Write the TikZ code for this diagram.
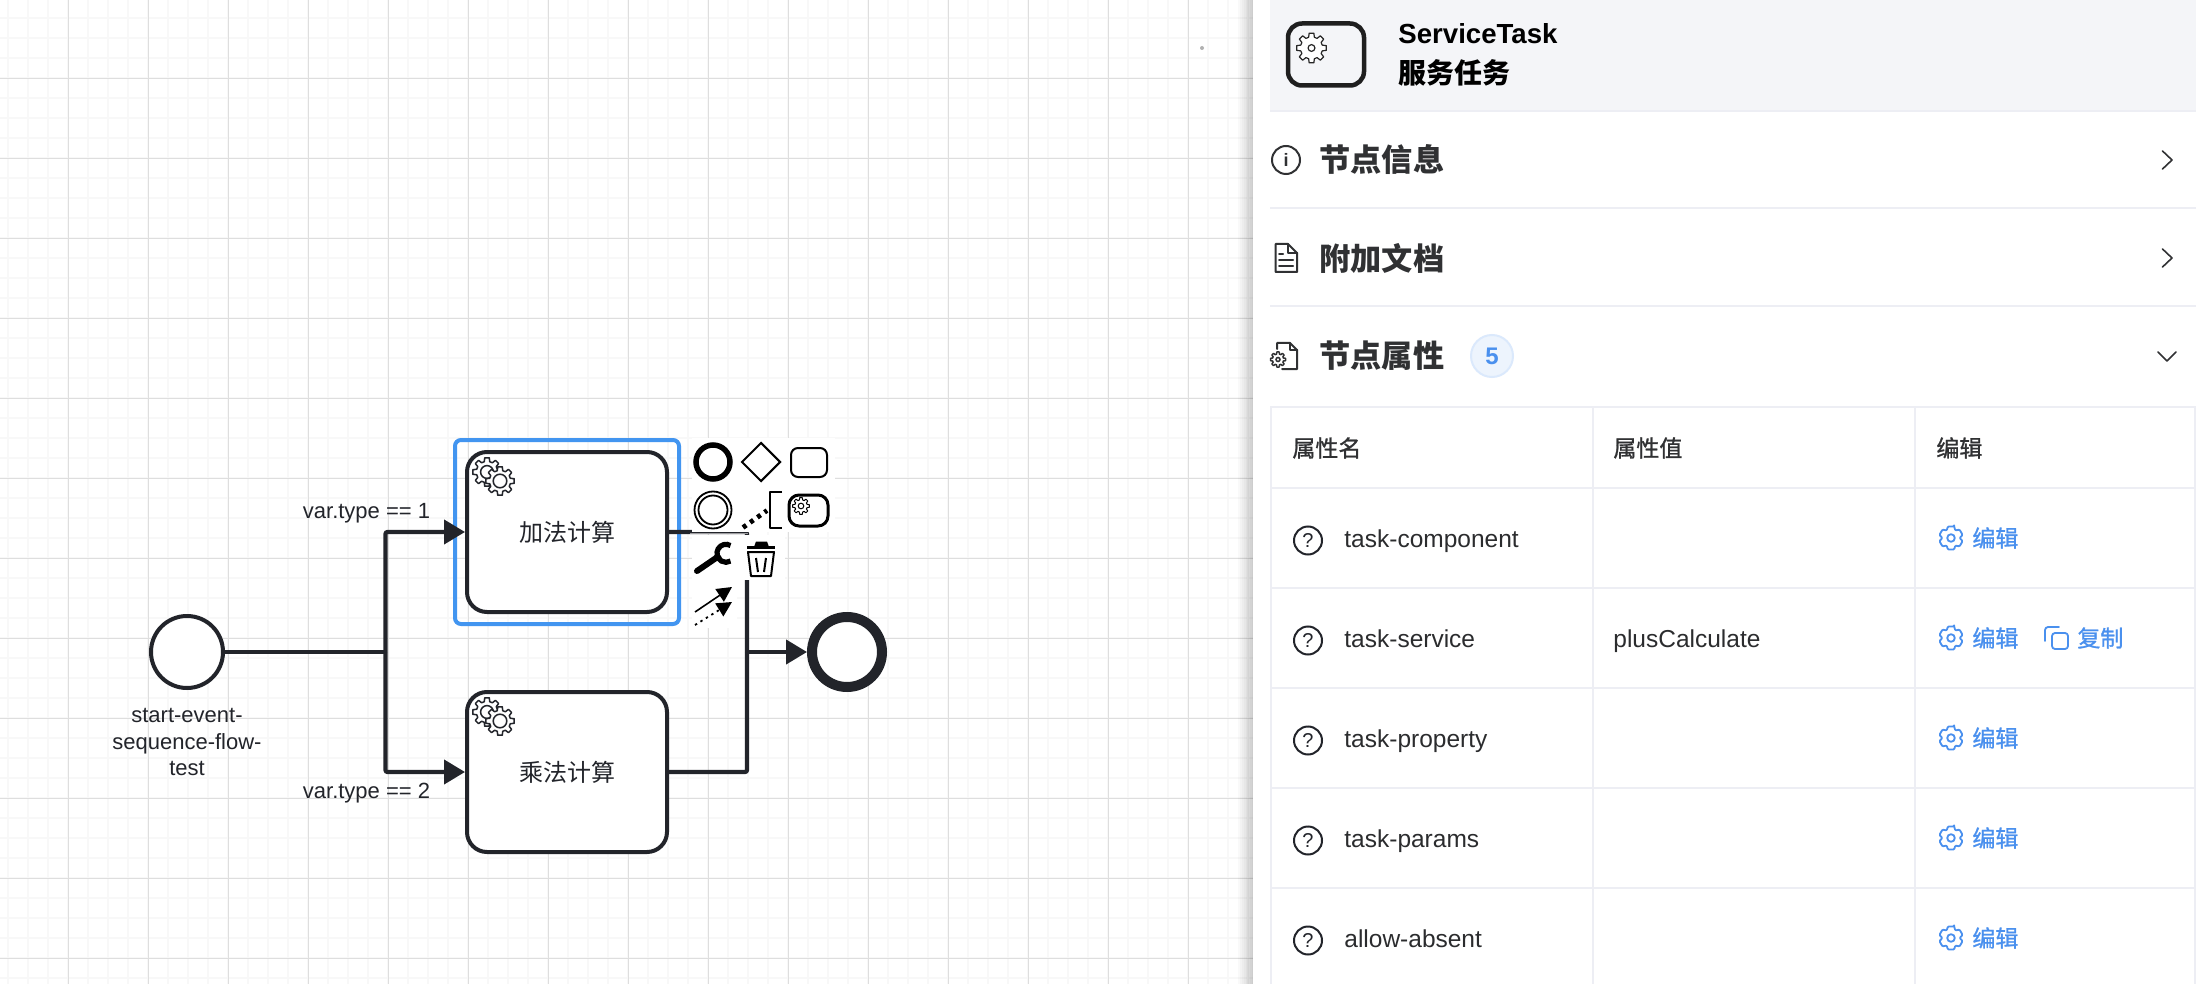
\documentclass[tikz,border=0pt]{standalone}
\usepackage{fontspec}
\setmainfont{Liberation Sans}
\newfontfamily\cjk{Noto Sans CJK SC}
\newfontfamily\cjkm[FakeBold=1.1]{Noto Sans CJK SC}
\usetikzlibrary{arrows.meta,calc,shapes.geometric}
\definecolor{ink}{HTML}{22242A}
\definecolor{major}{HTML}{DEDEDE}
\definecolor{minorg}{HTML}{F8F8F8}
\definecolor{selblue}{HTML}{4295F0}
\definecolor{linkblue}{HTML}{4A90EE}
\definecolor{rule}{HTML}{EDEEF4}
\definecolor{head}{HTML}{F4F5F8}
\definecolor{txt}{HTML}{303133}
\tikzset{
  bpmn/.style={draw=ink,line width=2pt,fill=white,inner sep=0pt},
  task/.style={bpmn,rectangle,rounded corners=10pt,minimum width=100pt,minimum height=80pt,font=\cjk\fontsize{12}{14}\selectfont,text=ink},
  flow/.style={draw=ink,line width=2.1pt,rounded corners=1pt},
  flowtip/.style={flow,-{Triangle[length=10.5pt,width=12pt]}},
  lbl/.style={inner sep=0pt,text=ink,font=\fontsize{11}{13}\selectfont},
  sect/.style={inner sep=0pt,anchor=west,text=txt,font=\cjk\bfseries\fontsize{15.6}{17}\selectfont},
  thtxt/.style={inner sep=0pt,anchor=west,text=txt,font=\cjkm\fontsize{11.5}{14}\selectfont},
  cell/.style={inner sep=0pt,anchor=base west,text=txt!90!black,font=\fontsize{12.25}{14}\selectfont},
  lnk/.style={inner sep=0pt,anchor=west,text=linkblue,font=\cjkm\fontsize{11.5}{14}\selectfont},
  qmark/.style={circle,draw=ink,line width=1pt,minimum size=14pt,inner sep=0pt,font=\fontsize{10}{10}\selectfont,text=ink},
  panelrule/.style={draw=rule,line width=1pt},
  tblrule/.style={draw=rule,line width=1pt},
  icon/.style={draw=txt,line width=1pt,line join=round,line cap=round},
  blueicon/.style={draw=linkblue,line width=.9pt,line join=round,line cap=round},
  pal/.style={draw=black,line width=1pt,line join=round},
}
% x, y, outer radius (pt), line width, colour, inner radius (pt)
\newcommand{\mygear}[6]{%
  \begin{scope}[shift={(#1,#2)}]
    \draw[draw=#5,fill=white,line width=#4,line join=round]
      (-15:{0.74*#3pt})
      \foreach \a in {0,45,...,315}{
        -- ({\a-15}:{0.74*#3pt}) -- ({\a-9}:{#3pt}) -- ({\a+9}:{#3pt}) -- ({\a+15}:{0.74*#3pt})
      } -- cycle;
    \draw[draw=#5,line width=#4] (0,0) circle[radius=#6pt];
  \end{scope}}
% x, y : six-lobed blue gear
\newcommand{\hexgear}[2]{%
  \begin{scope}[shift={(#1,#2)}]
    \draw[blueicon,rounded corners=.5pt]
      (75:6pt)
      \foreach \a in {90,150,...,390}{
        -- ({\a-15}:6pt) -- ({\a+15}:6pt) -- ({\a+30}:4.3pt)
      } -- cycle;
    \draw[blueicon] (0,0) circle[radius=1.9pt];
  \end{scope}}
\begin{document}
\begin{tikzpicture}[x=0.5pt,y=-0.5pt]
\useasboundingbox (0,0) rectangle (2196,984);
\fill[white] (0,0) rectangle (2196,984);
% grid
\foreach \k in {0,...,62}{\draw[minorg,line width=1pt] ({8+20*\k},0) -- ({8+20*\k},984);}
\foreach \k in {0,...,48}{\draw[minorg,line width=1pt] (0,{18+20*\k}) -- (1254,{18+20*\k});}
\foreach \k in {0,...,15}{\draw[major,line width=.5pt] ({68.5+80*\k},0) -- ({68.5+80*\k},984);}
\foreach \k in {0,...,11}{\draw[major,line width=.5pt] (0,{78.5+80*\k}) -- (1254,{78.5+80*\k});}
\fill[major!80!black] (1202,48) circle[radius=1pt];
% diagram nodes
\node[bpmn,circle,minimum size=36pt] (start) at (187,652) {};
\node[bpmn,circle,minimum size=35pt,line width=5pt] (end) at (847,652) {};
\node[task] (task1) at (567,532) {加法计算};
\node[task] (task2) at (567,772) {乘法计算};
\draw[selblue,line width=2pt,rounded corners=3pt] (455,440) rectangle (679,624);
\coordinate (j1) at (385.5,652);
\coordinate (j2) at (747,652);
\draw[flow] (start) -- (j1);
\draw[flowtip] (j1) |- (task1);
\draw[flowtip] (j1) |- (task2);
\draw[flow] (task1) -| (j2);
\draw[flow] (task2) -| (j2);
\draw[flowtip] (j2) -- (end);
% gears
\foreach \oy in {0,240}{
  \mygear{487}{472+\oy}{7.2}{.75pt}{ink}{3.2}
  \mygear{500}{481+\oy}{7.2}{.75pt}{ink}{3.4}
}
% labels
\node[lbl] (l1) at (366.5,513) {var.type == 1};
\node[lbl] (l2) at (366.5,793) {var.type == 2};
\node[lbl,align=center,font=\fontsize{11}{13.25}\selectfont] (startlbl) at (187,742) {start-event-\\sequence-flow-\\test};
% palette backdrop
\fill[white] (692,438) rectangle (835,531.5);
\fill[white] (692,534.5) rectangle (785,580);
\fill[white] (692,580) rectangle (737,628);
\draw[draw=ink!45,line width=.4pt] (690,533) -- (748,533);
% palette icons
\node[circle,draw=black,line width=2.75pt,minimum size=17pt,inner sep=0pt] (pStart) at (713,462) {};
\node[diamond,draw=black,line width=1pt,minimum size=19.5pt,inner sep=0pt] (pGate) at (761,462) {};
\node[draw=black,line width=1pt,rounded corners=3.5pt,minimum width=18pt,minimum height=14.5pt,inner sep=0pt] (pTask) at (809,462.5) {};
\node[circle,draw=black,line width=.9pt,minimum size=18.5pt,inner sep=0pt] (pInt) at (713,510) {};
\node[circle,draw=black,line width=.9pt,minimum size=14.5pt,inner sep=0pt] (pInt2) at (713,510) {};
\coordinate (pa) at (743,527.5);
\coordinate (pb) at (767,510.5);
\draw[draw=black,line width=2.4pt,dash pattern=on 2pt off 2.4pt] (pa) -- (pb);
\coordinate (br1) at (782,492);
\coordinate (br2) at (770,492);
\coordinate (br3) at (770,528);
\coordinate (br4) at (782,528);
\draw[pal] (br1) -- (br2) -- (br3) -- (br4);
\node[draw=black,line width=1.5pt,rounded corners=5pt,minimum width=19.5pt,minimum height=15.5pt,inner sep=0pt] (pSvc) at (808.5,510.5) {};
\mygear{801}{506}{4.2}{.5pt}{black}{1.4}
% wrench
\coordinate (w1) at (697,571);
\coordinate (w2) at (716,558);
\draw[black,line width=3pt,line cap=round] (w1) -- (w2);
\draw[black,line width=2.6pt] (730.5,545.5) arc[start angle=60,end angle=300,radius=4.5pt];
\draw[black,line width=3pt] (716,558) -- (720,555);
% trash
\coordinate (t1) at (747,547.5);
\coordinate (t2) at (775,547.5);
\draw[black,line width=1.3pt] (t1) -- (t2);
\fill[black] (754,547) -- (756,541.5) -- (767,541.5) -- (769,547) -- cycle;
\draw[pal] (748,552) -- (774,552) -- (771,576) -- (751,576) -- cycle;
\draw[pal] (756,558) -- (758,572);
\draw[pal] (766,558) -- (764,572);
% create-arrows
\coordinate (a1) at (695,612);
\coordinate (a2) at (732,587);
\coordinate (a3) at (695,625);
\coordinate (a4) at (732,602);
\draw[black,line width=.8pt,-{Triangle[length=7.5pt,width=7.5pt]}] (a1) -- (a2);
\draw[black,line width=.9pt,dash pattern=on 1.2pt off 2pt,-{Triangle[length=7.5pt,width=7.5pt]}] (a3) -- (a4);
% panel shadow
\foreach \i/\o in {0/.05,1/.05,2/.05,3/.05,4/.06,5/.06,6/.06,7/.06}{
  \fill[black,opacity=\o*0.45] ({1238+2*\i},0) rectangle (1254,984);
}
\fill[white] (1253,0) rectangle (2196,984);
% header
\fill[head] (1270,0) rectangle (2196,110);
\node[draw=black!88,line width=2.25pt,rounded corners=7pt,minimum width=38pt,minimum height=31pt,inner sep=0pt] (hTask) at (1326,54.5) {};
\mygear{1311.5}{48}{7.5}{.6pt}{black!85}{1.7}
\node[inner sep=0pt,anchor=base west,text=black,font=\bfseries\fontsize{13.8}{16}\selectfont] (hName) at (1398,44) {ServiceTask};
\node[inner sep=0pt,anchor=west,text=black,font=\cjk\bfseries\fontsize{14}{16}\selectfont] (hCn) at (1398,73) {服务任务};
% rules
\foreach \y in {111,208.5,306.5}{\draw[panelrule] (1270,\y) -- (2196,\y);}
% section headings
\node[sect] (s1) at (1319,160) {节点信息};
\node[sect] (s2) at (1319,258) {附加文档};
\node[sect] (s3) at (1319,356) {节点属性};
\node[circle,fill=linkblue!10!white,draw=linkblue!20!white,line width=1pt,minimum size=21pt,inner sep=0pt,text=linkblue,font=\bfseries\fontsize{12}{14}\selectfont] (badge) at (1492,356) {5};
% section icons
\node[circle,draw=txt,line width=1pt,minimum size=14pt,inner sep=0pt,font=\bfseries\fontsize{9}{10}\selectfont,text=txt] (iInfo) at (1286,160) {i};
\draw[icon] (1288,244) -- (1275.5,244) -- (1275.5,272) -- (1297,272) -- (1297,253) -- cycle;
\draw[icon] (1288,244) -- (1288,253) -- (1297,253);
\draw[icon] (1279,254) -- (1283,254) (1279,260) -- (1293,260) (1279,266.5) -- (1293,266.5);
\draw[icon] (1277,349) -- (1277,343) -- (1290,343) -- (1297,350) -- (1297,369) -- (1282,369);
\draw[icon] (1290,343) -- (1290,350) -- (1297,350);
\mygear{1278}{359.5}{3.8}{.75pt}{txt}{1}
% chevrons
\draw[icon,line width=.8pt] (2162.5,151) -- (2172,160) -- (2162.5,169);
\draw[icon,line width=.8pt] (2162.5,249) -- (2172,258) -- (2162.5,267);
\draw[icon,line width=.8pt] (2158,352) -- (2167,361) -- (2176,352);
% table
\draw[tblrule] (1271,407) rectangle (2194.5,1000);
\foreach \y in {488,588,688,788,888}{\draw[tblrule] (1271,\y) -- (2194.5,\y);}
\foreach \x in {1592.5,1915}{\draw[tblrule] (\x,407) -- (\x,984);}
\node[thtxt] (th1) at (1292,448) {属性名};
\node[thtxt] (th2) at (1613,448) {属性值};
\node[thtxt] (th3) at (1936,448) {编辑};
% rows
\foreach \k/\nm in {0/task-component,1/task-service,2/task-property,3/task-params,4/allow-absent}{
  \node[qmark] (q\k) at (1308,{540.5+100*\k}) {?};
  \node[cell] (n\k) at (1344,{547+100*\k}) {\nm};
  \hexgear{1951}{538+100*\k}
  \node[lnk] (e\k) at (1972,{538+100*\k}) {编辑};
}
\node[cell] (val) at (1613,647) {plusCalculate};
\draw[blueicon,rounded corners=1.5pt] (2052,633) rectangle (2068,649);
\draw[blueicon,rounded corners=1.5pt] (2045,641) -- (2045,627) -- (2059,627);
\node[lnk] (copy) at (2077,638) {复制};
\end{tikzpicture}
\end{document}
